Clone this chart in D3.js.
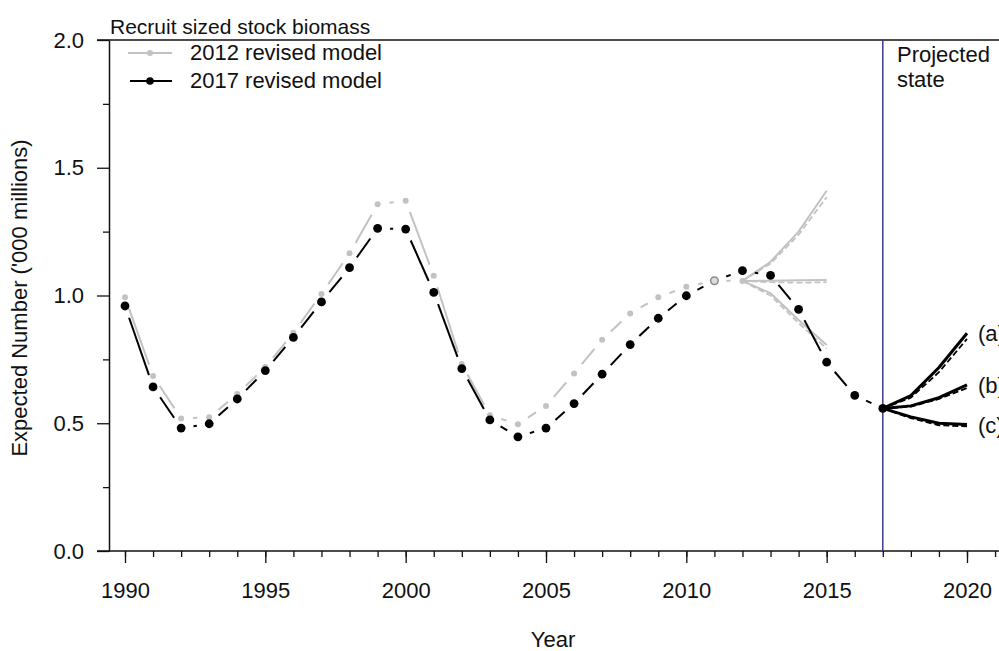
<!DOCTYPE html>
<html>
<head>
<meta charset="utf-8">
<script src="https://cdnjs.cloudflare.com/ajax/libs/d3/7.8.5/d3.min.js"></script>
<style>
  body { margin: 0; background: #fff; }
  text { font-family: "Liberation Sans", Arial, sans-serif; fill: #111; }
</style>
</head>
<body>
<div id="chart"></div>
<script>
// estimated series (values in '000 millions)
var years2012 = [1990, 1991, 1992, 1993, 1994, 1995, 1996, 1997, 1998, 1999, 2000, 2001,
                 2002, 2003, 2004, 2005, 2006, 2007, 2008, 2009, 2010, 2011, 2012];
var model2012 = [0.993, 0.685, 0.519, 0.523, 0.614, 0.72, 0.854, 1.006, 1.165, 1.357, 1.371, 1.077,
                 0.732, 0.531, 0.496, 0.568, 0.695, 0.827, 0.930, 0.993, 1.034, 1.058, 1.057];

var years2017 = [1990, 1991, 1992, 1993, 1994, 1995, 1996, 1997, 1998, 1999, 2000, 2001,
                 2002, 2003, 2004, 2005, 2006, 2007, 2008, 2009, 2010, 2011, 2012, 2013,
                 2014, 2015, 2016, 2017];
var model2017 = [0.959, 0.642, 0.481, 0.498, 0.595, 0.706, 0.836, 0.975, 1.109, 1.263, 1.26, 1.012,
                 0.714, 0.513, 0.447, 0.481, 0.577, 0.692, 0.808, 0.911, 0.999, 1.058, 1.097, 1.079,
                 0.946, 0.739, 0.609, 0.558];

// 2011 is drawn as an open marker in the original
var overlapYear = 2011;
var overlapValue = 1.058;

// projections from the 2012 model
var fanYears2012 = [2012, 2013, 2014, 2015];
var fan2012Up = [1.057, 1.132, 1.25, 1.41];
var fan2012UpAlt = [1.057, 1.125, 1.238, 1.385];
var fan2012Mid = [1.057, 1.058, 1.06, 1.061];
var fan2012MidAlt = [1.057, 1.052, 1.05, 1.052];
var fan2012Low = [1.057, 1.009, 0.904, 0.806];
var fan2012LowAlt = [1.057, 1.0, 0.892, 0.792];

// projections from the 2017 model
var fanYears2017 = [2017, 2018, 2019, 2020];
var fanA = [0.558, 0.608, 0.718, 0.852];
var fanAAlt = [0.558, 0.6, 0.7, 0.83];
var fanB = [0.558, 0.568, 0.6, 0.65];
var fanBAlt = [0.558, 0.565, 0.595, 0.638];
var fanC = [0.558, 0.525, 0.5, 0.495];
var fanCAlt = [0.558, 0.52, 0.492, 0.488];
var fanLabels = ["(a)", "(b)", "(c)"];

var yMajor = [0, 0.5, 1.0, 1.5, 2.0];
var yMinor = [0.25, 0.75, 1.25, 1.75];
var xMajor = [1990, 1995, 2000, 2005, 2010, 2015, 2020];
var xMinor = [1990, 1991, 1992, 1993, 1994, 1995, 1996, 1997, 1998, 1999, 2000, 2001, 2002,
              2003, 2004, 2005, 2006, 2007, 2008, 2009, 2010, 2011, 2012, 2013, 2014, 2015,
              2016, 2017, 2018, 2019, 2020, 2021];
var projectionStart = 2017;

var width = 999, height = 651;
var plotLeft = 109, plotTop = 40, plotBottom = 551;

var x = d3.scaleLinear().domain([1990, 2020]).range([125, 967]);
var y = d3.scaleLinear().domain([0, 2]).range([plotBottom, plotTop]);

var svg = d3.select("#chart").append("svg")
    .attr("width", width)
    .attr("height", height);

var grey = "#c2c2c2";
var fontSize = "22px";

// frame lines
svg.append("line")
    .attr("x1", 97).attr("x2", width).attr("y1", plotTop).attr("y2", plotTop)
    .attr("stroke", "#111").attr("stroke-width", 1.5);
svg.append("line")
    .attr("x1", 97).attr("x2", width).attr("y1", plotBottom).attr("y2", plotBottom)
    .attr("stroke", "#111").attr("stroke-width", 1.5);

// y axis
var yAxis = svg.append("g")
    .attr("transform", "translate(" + plotLeft + ",0)")
    .call(d3.axisLeft(y).tickValues(yMajor).tickSize(12).tickSizeOuter(0).tickPadding(13)
        .tickFormat(d3.format(".1f")));
yAxis.select(".domain").attr("stroke", "#111").attr("stroke-width", 1.5);
yAxis.selectAll(".tick line").attr("stroke", "#111").attr("stroke-width", 1.3);
yAxis.selectAll("text").style("font-size", fontSize).attr("fill", "#111");

var yAxisMinor = svg.append("g")
    .attr("transform", "translate(" + plotLeft + ",0)")
    .call(d3.axisLeft(y).tickValues(yMinor).tickSize(6).tickFormat(""));
yAxisMinor.select(".domain").remove();
yAxisMinor.selectAll(".tick line").attr("stroke", "#111").attr("stroke-width", 1.3);

// x axis
var xAxis = svg.append("g")
    .attr("transform", "translate(0," + plotBottom + ")")
    .call(d3.axisBottom(x).tickValues(xMajor).tickSize(12).tickPadding(19).tickFormat(d3.format("d")));
xAxis.select(".domain").remove();
xAxis.selectAll(".tick line").attr("stroke", "#111").attr("stroke-width", 1.3);
xAxis.selectAll("text").style("font-size", fontSize).attr("fill", "#111");

var xAxisMinor = svg.append("g")
    .attr("transform", "translate(0," + plotBottom + ")")
    .call(d3.axisBottom(x).tickValues(xMinor).tickSize(6).tickFormat(""));
xAxisMinor.select(".domain").remove();
xAxisMinor.selectAll(".tick line").attr("stroke", "#111").attr("stroke-width", 1.3);

// axis titles
svg.append("text")
    .attr("x", 553).attr("y", 647)
    .attr("text-anchor", "middle")
    .style("font-size", fontSize)
    .text("Year");

svg.append("text")
    .attr("transform", "translate(27,298) rotate(-90)")
    .attr("text-anchor", "middle")
    .style("font-size", fontSize)
    .text("Expected Number ('000 millions)");

svg.append("text")
    .attr("x", 110).attr("y", 34)
    .style("font-size", "21px")
    .text("Recruit sized stock biomass");

// projected state divider
svg.append("line")
    .attr("x1", x(projectionStart)).attr("x2", x(projectionStart))
    .attr("y1", plotTop).attr("y2", plotBottom)
    .attr("stroke", "#3a3a8c").attr("stroke-width", 1.5);
svg.append("text")
    .attr("x", 897).attr("y", 62)
    .style("font-size", fontSize)
    .text("Projected");
svg.append("text")
    .attr("x", 897).attr("y", 87)
    .style("font-size", fontSize)
    .text("state");

// line segments with a gap around each point (like R type = "b")
function gapSegments(xs, vs, gap) {
    var pts = xs.map(function (d, i) { return [x(d), y(vs[i])]; });
    var segs = [];
    for (var i = 0; i < pts.length - 1; i++) {
        var dx = pts[i + 1][0] - pts[i][0], dy = pts[i + 1][1] - pts[i][1];
        var len = Math.sqrt(dx * dx + dy * dy);
        if (len <= 2 * gap) continue;
        var ux = dx / len, uy = dy / len;
        segs.push([pts[i][0] + ux * gap, pts[i][1] + uy * gap,
                   pts[i + 1][0] - ux * gap, pts[i + 1][1] - uy * gap]);
    }
    return segs;
}

function drawSeries(xs, vs, color, lw, r, gap) {
    var g = svg.append("g");
    g.selectAll("line")
        .data(gapSegments(xs, vs, gap))
        .enter().append("line")
        .attr("x1", function (d) { return d[0]; })
        .attr("y1", function (d) { return d[1]; })
        .attr("x2", function (d) { return d[2]; })
        .attr("y2", function (d) { return d[3]; })
        .attr("stroke", color)
        .attr("stroke-width", lw);
    var pts = xs.map(function (d, i) { return {year: d, v: vs[i]}; })
        .filter(function (d) { return d.year !== overlapYear; });
    g.selectAll("circle")
        .data(pts)
        .enter().append("circle")
        .attr("cx", function (d) { return x(d.year); })
        .attr("cy", function (d) { return y(d.v); })
        .attr("r", r)
        .attr("fill", color);
}

var line = d3.line()
    .x(function (d) { return x(d[0]); })
    .y(function (d) { return y(d[1]); });

function drawFan(xs, vs, color, lw, dash) {
    svg.append("path")
        .attr("d", line(xs.map(function (d, i) { return [d, vs[i]]; })))
        .attr("fill", "none")
        .attr("stroke", color)
        .attr("stroke-width", lw)
        .attr("stroke-dasharray", dash)
        .attr("stroke-linejoin", "round");
}

// 2012 model
drawSeries(years2012, model2012, grey, 2, 3, 12);
drawFan(fanYears2012, fan2012Up, grey, 2, null);
drawFan(fanYears2012, fan2012UpAlt, grey, 1.8, "6,3");
drawFan(fanYears2012, fan2012Mid, grey, 2, null);
drawFan(fanYears2012, fan2012MidAlt, grey, 1.8, "6,3");
drawFan(fanYears2012, fan2012Low, grey, 2, null);
drawFan(fanYears2012, fan2012LowAlt, grey, 1.8, "6,3");

// 2017 model
drawSeries(years2017, model2017, "#000", 2, 4.4, 12.5);
drawFan(fanYears2017, fanA, "#000", 3, null);
drawFan(fanYears2017, fanAAlt, "#000", 1.8, "6,3");
drawFan(fanYears2017, fanB, "#000", 3, null);
drawFan(fanYears2017, fanBAlt, "#000", 1.8, "6,3");
drawFan(fanYears2017, fanC, "#000", 3, null);
drawFan(fanYears2017, fanCAlt, "#000", 1.8, "6,3");

svg.append("circle")
    .attr("cx", x(overlapYear)).attr("cy", y(overlapValue))
    .attr("r", 3.8)
    .attr("fill", "#dcdcdc")
    .attr("stroke", "#8a8a8a")
    .attr("stroke-width", 1.5);

// fan labels (cut by the right edge, as in the original figure)
var fanEnds = [fanA[3], fanB[3], fanC[3]];
svg.selectAll(".fanlabel")
    .data(fanLabels)
    .enter().append("text")
    .attr("class", "fanlabel")
    .attr("x", x(2020) + 11)
    .attr("y", function (d, i) { return y(fanEnds[i]) + 8; })
    .style("font-size", fontSize)
    .text(function (d) { return d; });

// legend
var legend = svg.append("g");
legend.append("line").attr("x1", 128).attr("x2", 172).attr("y1", 53).attr("y2", 53)
    .attr("stroke", grey).attr("stroke-width", 2);
legend.append("circle").attr("cx", 150).attr("cy", 53).attr("r", 3).attr("fill", grey);
legend.append("text").attr("x", 190).attr("y", 60).style("font-size", fontSize).text("2012 revised model");
legend.append("line").attr("x1", 130).attr("x2", 172).attr("y1", 81).attr("y2", 81)
    .attr("stroke", "#000").attr("stroke-width", 2);
legend.append("circle").attr("cx", 150).attr("cy", 81).attr("r", 3.8).attr("fill", "#000");
legend.append("text").attr("x", 190).attr("y", 88).style("font-size", fontSize).text("2017 revised model");
</script>
</body>
</html>
